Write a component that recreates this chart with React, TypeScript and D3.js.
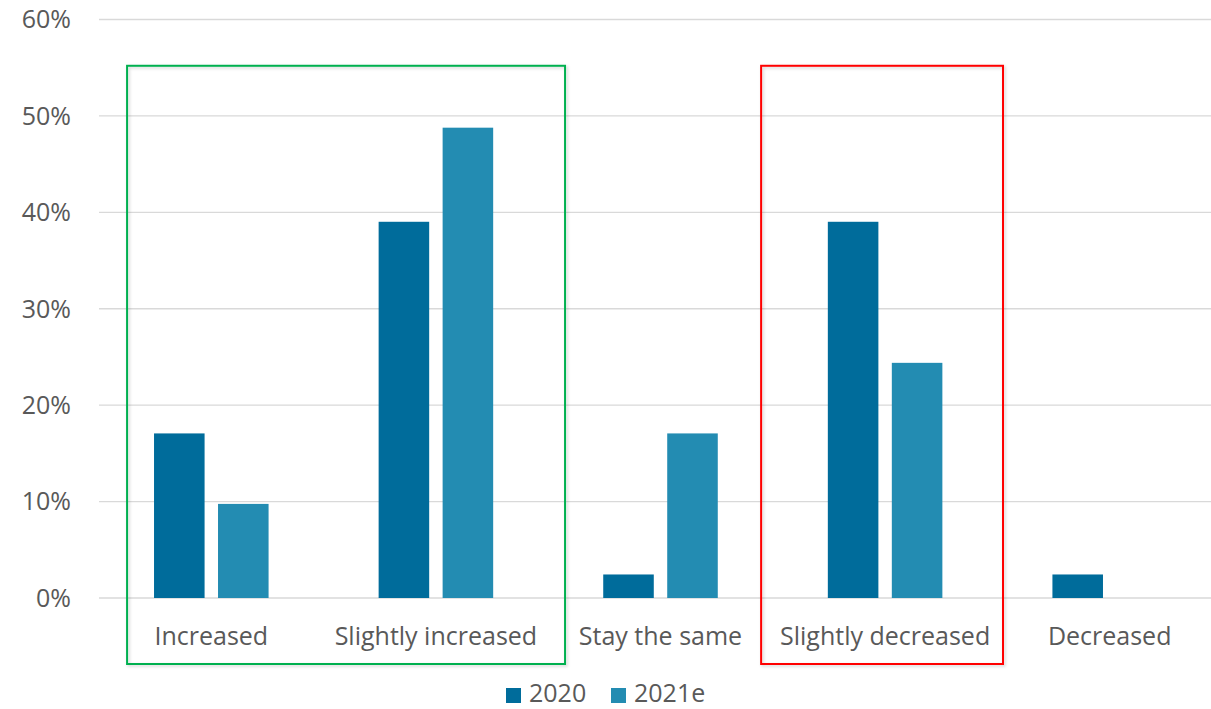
import React from "react";
import * as d3 from "d3";

const categories = ["Increased", "Slightly increased", "Stay the same", "Slightly decreased", "Decreased"];
const seriesNames = ["2020", "2021e"];
const values2020 = [17.07, 39.02, 2.44, 39.02, 2.44];
const values2021e = [9.76, 48.78, 17.07, 24.39, 0];
const yTicks = [0, 10, 20, 30, 40, 50, 60];
const seriesColors = ["#006C9B", "#238CB2"];

// highlighted groups: extent in category steps along the x axis, and colour
const highlightFrom = [0.125, 2.948];
const highlightTo = [2.075, 4.025];
const highlightColors = ["#00B050", "#FF0000"];

const W = 1211;
const H = 709;
const FONT = "'Open Sans', sans-serif";
const TEXT = "#595959";

export default function App() {
  const x0 = d3
    .scaleBand<string>()
    .domain(categories)
    .range([99, 1222])
    .paddingInner(0.49)
    .paddingOuter(0.245);
  const x1 = d3.scaleBand<string>().domain(seriesNames).range([0, x0.bandwidth()]).paddingInner(0.21);
  const y = d3.scaleLinear().domain([0, 60]).range([598, 19.5]);

  const series = [values2020, values2021e];
  const step = x0.step();
  const xStart = x0.range()[0];

  return (
    <svg width={W} height={H} style={{ position: "absolute", left: 0, top: 0, background: "#fff" }}>
      <defs>
        <filter id="boxShadow" x="-5%" y="-5%" width="110%" height="110%">
          <feDropShadow dx="1.5" dy="1.5" stdDeviation="1.5" floodColor="#000" floodOpacity="0.18" />
        </filter>
      </defs>
      {/* gridlines */}
      {yTicks.map((t) => (
        <line key={t} x1={99} x2={1222} y1={y(t)} y2={y(t)} stroke="#D9D9D9" strokeWidth={1.3} />
      ))}
      {/* y tick labels */}
      {yTicks.map((t) => (
        <text
          key={"l" + t}
          x={71}
          y={y(t)}
          dy="0.35em"
          textAnchor="end"
          fontFamily={FONT}
          fontSize={25}
          fill={TEXT}
        >
          {t}%
        </text>
      ))}
      {/* bars */}
      {categories.map((c, i) =>
        seriesNames.map((s, j) => {
          const v = series[j][i];
          if (v <= 0) return null;
          return (
            <rect
              key={c + s}
              x={(x0(c) ?? 0) + (x1(s) ?? 0)}
              y={y(v)}
              width={x1.bandwidth()}
              height={y(0) - y(v)}
              fill={seriesColors[j]}
            />
          );
        })
      )}
      {/* category labels */}
      {categories.map((c) => (
        <text
          key={"c" + c}
          x={(x0(c) ?? 0) + x0.bandwidth() / 2}
          y={645}
          textAnchor="middle"
          fontFamily={FONT}
          fontSize={25}
          fill={TEXT}
        >
          {c}
        </text>
      ))}
      {/* highlight boxes */}
      {highlightColors.map((col, k) => {
        const left = xStart + highlightFrom[k] * step;
        const right = xStart + highlightTo[k] * step;
        return (
          <rect
            key={"hb" + k}
            x={left}
            y={y(55.2)}
            width={right - left}
            height={664 - y(55.2)}
            fill="none"
            stroke={col}
            strokeWidth={2}
            filter="url(#boxShadow)"
          />
        );
      })}
      {/* legend */}
      {seriesNames.map((s, j) => {
        const lx = [506, 611][j];
        return (
          <g key={"lg" + s}>
            <rect x={lx} y={688} width={15} height={15} fill={seriesColors[j]} />
            <text x={lx + 23} y={702} fontFamily={FONT} fontSize={25} fill={TEXT}>
              {s}
            </text>
          </g>
        );
      })}
    </svg>
  );
}
